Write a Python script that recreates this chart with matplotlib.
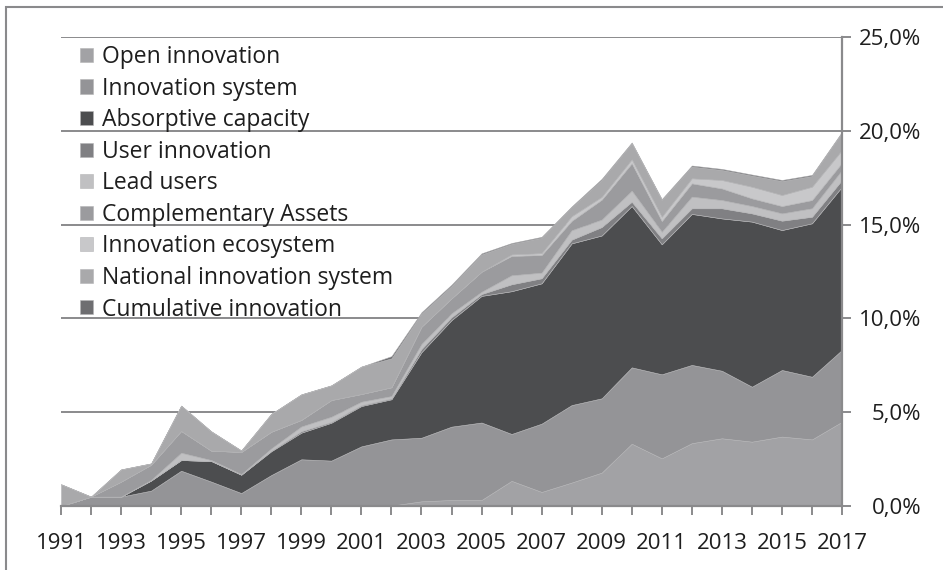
import matplotlib
matplotlib.use('Agg')
from matplotlib import pyplot as plt
from matplotlib.patches import Rectangle
from matplotlib.ticker import FuncFormatter, MultipleLocator

plt.rcParams['font.family'] = ['Open Sans', 'DejaVu Sans']

years = list(range(1991, 2018))
labels = ['Open innovation', 'Innovation system', 'Absorptive capacity',
          'User innovation', 'Lead users', 'Complementary Assets',
          'Innovation ecosystem', 'National innovation system',
          'Cumulative innovation']
colors = ['#a2a2a5', '#949497', '#4c4d4f', '#808083', '#c0c0c2',
          '#9b9b9e', '#c8c8ca', '#a9a9ab', '#6e6e71']

# shares per year (%), 1991..2017
open_innovation = [0, 0, 0, 0, 0, 0, 0, 0, 0, 0, 0, 0.02, 0.25, 0.32, 0.32, 1.34,
                   0.75, 1.25, 1.78, 3.32, 2.54, 3.35, 3.61, 3.43, 3.7, 3.55, 4.49]
innovation_system = [0, 0.5, 0.5, 0.82, 1.88, 1.3, 0.69, 1.65, 2.49, 2.42, 3.18,
                     3.53, 3.39, 3.91, 4.13, 2.5, 3.64, 4.13, 3.96, 4.07, 4.48,
                     4.17, 3.6, 2.93, 3.55, 3.34, 3.83]
absorptive_capacity = [0, 0, 0, 0.54, 0.57, 1.1, 0.98, 1.27, 1.42, 2.02, 2.15,
                       2.14, 4.56, 5.68, 6.75, 7.61, 7.48, 8.62, 8.68, 8.6, 6.93,
                       8.05, 8.12, 8.8, 7.46, 8.18, 8.7]
user_innovation = [0, 0, 0, 0, 0, 0, 0, 0.03, 0.08, 0.05, 0.05, 0.05, 0.17, 0.15,
                   0.1, 0.37, 0.27, 0.2, 0.45, 0.23, 0.32, 0.3, 0.54, 0.44, 0.5,
                   0.35, 0.36]
lead_users = [0, 0, 0, 0.03, 0.39, 0.05, 0.03, 0.12, 0.25, 0.27, 0.18, 0.12, 0.27,
              0.21, 0.12, 0.48, 0.3, 0.5, 0.4, 0.59, 0.35, 0.62, 0.44, 0.39, 0.39,
              0.45, 0.53]
complementary_assets = [0, 0, 0.8, 0.81, 1.16, 0.5, 1.18, 0.89, 0.35, 0.89, 0.41,
                        0.47, 0.92, 0.8, 1.07, 1.03, 0.94, 0.5, 1.06, 1.46, 0.57,
                        0.71, 0.62, 0.41, 0.39, 0.44, 0.39]
innovation_ecosystem = [0, 0, 0, 0, 0, 0, 0, 0, 0, 0, 0, 0, 0, 0, 0, 0.08, 0.1,
                        0.25, 0.15, 0.21, 0.23, 0.27, 0.45, 0.62, 0.59, 0.71, 0.68]
national_innovation_system = [1.16, 0, 0.65, 0.07, 1.35, 1.03, 0.08, 0.95, 1.36,
                              0.78, 1.46, 1.54, 0.7, 0.66, 0.92, 0.56, 0.82, 0.47,
                              0.9, 0.85, 0.89, 0.62, 0.53, 0.59, 0.74, 0.57, 0.92]
cumulative_innovation = [0, 0, 0, 0, 0, 0, 0, 0, 0, 0, 0, 0.12, 0.07, 0.07, 0.06,
                         0.05, 0.05, 0.05, 0.06, 0.05, 0.05, 0.06, 0.06, 0.06, 0.06,
                         0.06, 0.05]

series = [open_innovation, innovation_system, absorptive_capacity, user_innovation,
          lead_users, complementary_assets, innovation_ecosystem,
          national_innovation_system, cumulative_innovation]

fig = plt.figure(figsize=(9.43, 5.70), dpi=100)
ax = fig.add_axes([61 / 943, 1 - 506 / 570, 781 / 943, 469 / 570])

# Grid behind the areas
grid_color = '#8a8a8c'
ax.set_axisbelow(True)
ax.yaxis.grid(True, color=grid_color, linewidth=1.4)

ax.stackplot(years, *series, labels=labels, colors=colors,
             edgecolor='#b4b4b6', linewidth=0.4)

ax.set_xlim(1991, 2017)
ax.set_ylim(0, 25)

# Axes styling
for side in ['left', 'top']:
    ax.spines[side].set_visible(False)
for side in ['right', 'bottom']:
    ax.spines[side].set_color(grid_color)
    ax.spines[side].set_linewidth(1.6)

ax.yaxis.tick_right()
ax.yaxis.set_major_locator(MultipleLocator(5))
ax.yaxis.set_major_formatter(FuncFormatter(lambda v, _: f"{v:.1f}%".replace('.', ',')))
ax.tick_params(axis='y', which='major', length=6.5, width=1.4, color=grid_color,
               labelsize=16, labelcolor='#1e1e1e', pad=50.5)
for lab in ax.get_yticklabels():
    lab.set_horizontalalignment('right')

ax.set_xticks(years)
ax.set_xticklabels([str(y) if (y - 1991) % 2 == 0 else '' for y in years])
ax.tick_params(axis='x', which='major', length=6.5, width=1.4, color=grid_color,
               labelsize=16, labelcolor='#1e1e1e', pad=13)

# Legend inside the plot area, top left
leg = ax.legend(loc='upper left', bbox_to_anchor=(80 / 943, 1 - 45 / 570),
                bbox_transform=fig.transFigure, frameon=False, fontsize=16.5,
                handlelength=0.57, handleheight=0.57, handletextpad=0.4,
                labelspacing=0.33, borderaxespad=0, borderpad=0)
for text in leg.get_texts():
    text.set_color('#1e1e1e')

# Outer chart border
fig.patches.append(Rectangle((6 / 943, -0.1), 1.2, 1.1 - 7 / 570,
                             transform=fig.transFigure, fill=False,
                             edgecolor=grid_color, linewidth=1.5))

fig.savefig('out.png', dpi=100)
